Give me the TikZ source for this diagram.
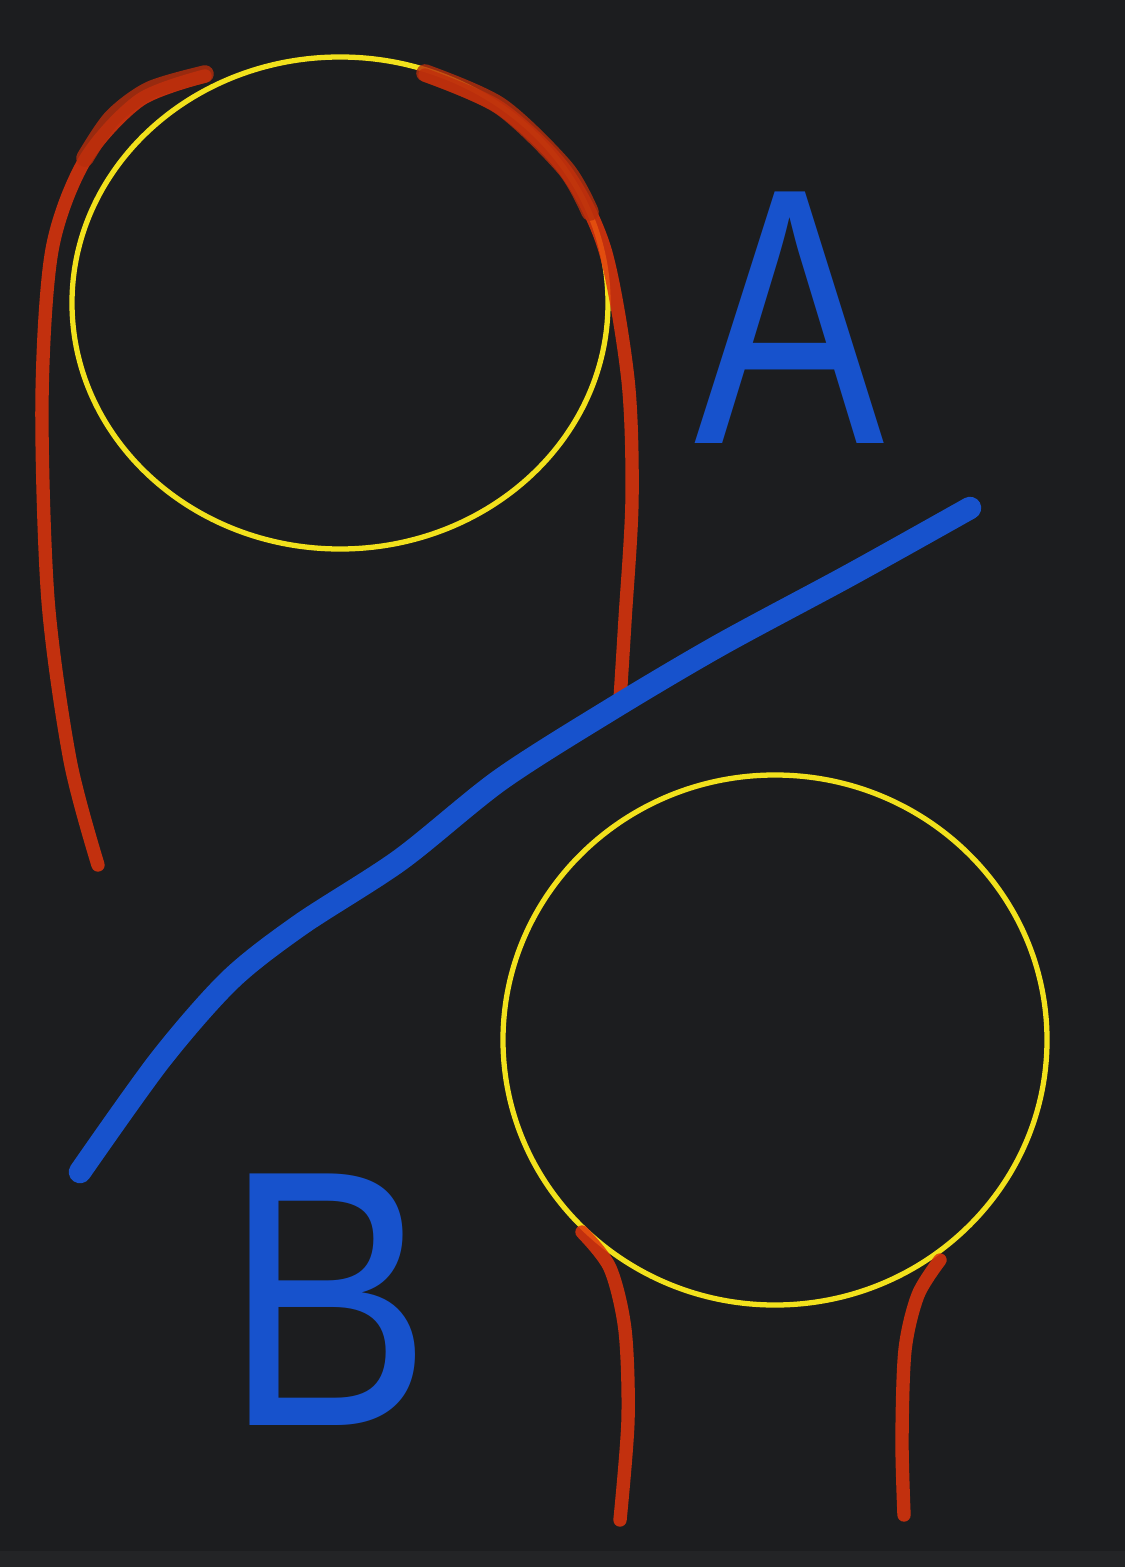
\documentclass[tikz,border=0pt]{standalone}
\usepackage{fontspec}
\usepackage{graphicx}
\newfontfamily\handfont{Liberation Sans}
\definecolor{fond}{HTML}{1C1D1F}
\definecolor{bande}{HTML}{232426}
\definecolor{jaune}{HTML}{F2E11C}
\definecolor{rouge}{HTML}{E0340C}
\definecolor{rougefonce}{HTML}{B82E0C}
\definecolor{bleu}{HTML}{1752CC}
\begin{document}
\begin{tikzpicture}[
    x=0.01cm, y=-0.01cm,
    ring/.style={draw=jaune, line width=1.5pt},
    redline/.style={draw=rouge, line width=3.8pt, line cap=round, opacity=0.85},
    redtop/.style={draw=rougefonce, line width=5pt, line cap=round, opacity=0.8},
    blueline/.style={draw=bleu, line width=6.4pt, line cap=round},
    letter/.style={text=bleu, inner sep=0pt, font=\handfont\fontsize{104}{104}\selectfont}
]
    % Fond
    \fill[fond] (0,0) rectangle (1125,1567);
    \fill[bande] (0,1551) rectangle (1125,1567);

    % Cercles
    \draw[ring] (340,303) ellipse[x radius=268, y radius=246];
    \draw[ring] (775,1040) ellipse[x radius=272, y radius=265];

    % Traits rouges
    \draw[redline] plot[smooth] coordinates {(205,76) (140,100) (85,160) (52,250) (42,400) (48,600) (70,760) (98,865)};
    \draw[redtop] plot[smooth] coordinates {(205,74) (150,90) (112,118) (85,158)};
    \draw[redline] plot[smooth] coordinates {(425,75) (500,108) (565,170) (605,250) (628,380) (632,500) (625,620) (620,700)};
    \draw[redtop] plot[smooth] coordinates {(425,73) (500,106) (565,168) (590,212)};
    \draw[redline] plot[smooth] coordinates {(582,1232) (610,1268) (625,1330) (628,1420) (620,1520)};
    \draw[redline] plot[smooth] coordinates {(940,1260) (918,1295) (905,1350) (902,1440) (904,1515)};

    % Diagonale
    \draw[blueline] plot[smooth] coordinates {(970,508) (850,575) (720,645) (610,710) (500,780) (400,860) (300,925) (230,980) (160,1060) (80,1172)};

    % Lettres
    \node[letter] (letA) at (790,318) {\scalebox{0.78}[1]{A}};
    \node[letter] (letB) at (328,1300) {\scalebox{0.85}[1]{B}};
\end{tikzpicture}
\end{document}
